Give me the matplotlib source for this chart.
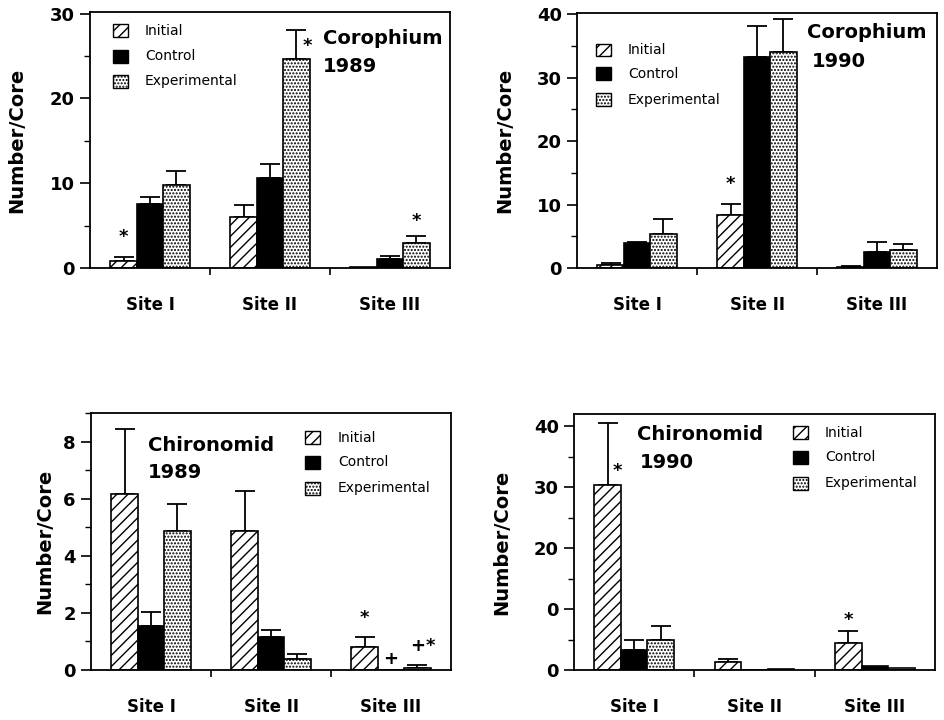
import matplotlib
matplotlib.use("Agg")
import matplotlib.pyplot as plt
from matplotlib.patches import Rectangle
from matplotlib.ticker import FixedLocator, FixedFormatter, MultipleLocator, NullFormatter
import numpy as np

plt.rcParams['font.family'] = ['DejaVu Sans']
plt.rcParams['hatch.linewidth'] = 1.0

sites = ["Site I", "Site II", "Site III"]
series_names = ["Initial", "Control", "Experimental"]

# Corophium 1989
coro89_initial = [0.8, 6.0, 0.1]
coro89_initial_err = [0.45, 1.4, 0.0]
coro89_control = [7.5, 10.6, 1.1]
coro89_control_err = [0.9, 1.7, 0.35]
coro89_exp = [9.8, 24.7, 2.95]
coro89_exp_err = [1.7, 3.4, 0.85]
coro89_marks = [("*", 0, 0, 3.7), ("*", 1, 2, 26.2), ("*", 2, 2, 5.5)]

# Corophium 1990
coro90_initial = [0.4, 8.3, 0.15]
coro90_initial_err = [0.35, 1.8, 0.15]
coro90_control = [3.9, 33.2, 2.5]
coro90_control_err = [0.2, 5.0, 1.6]
coro90_exp = [5.4, 34.0, 2.8]
coro90_exp_err = [2.4, 5.2, 1.0]
coro90_marks = [("*", 1, 0, 13.2)]

# Chironomid 1989
chir89_initial = [6.17, 4.87, 0.79]
chir89_initial_err = [2.28, 1.41, 0.35]
chir89_control = [1.54, 1.14, 0.0]
chir89_control_err = [0.50, 0.26, 0.0]
chir89_exp = [4.87, 0.40, 0.08]
chir89_exp_err = [0.94, 0.16, 0.10]
chir89_marks = [("*", 2, 0, 1.81), ("+", 2, 1, 0.37), ("+", 2, 2, 0.85), ("*", 2, 2, 0.85)]

# Chironomid 1990
chir90_initial = [30.4, 1.26, 4.5]
chir90_initial_err = [10.1, 0.55, 1.9]
chir90_control = [3.3, 0.0, 0.65]
chir90_control_err = [1.6, 0.0, 0.0]
chir90_exp = [4.9, 0.2, 0.4]
chir90_exp_err = [2.4, 0.0, 0.0]
chir90_marks = [("*", 0, 0, 32.7), ("*", 2, 0, 8.2)]

yticks_coro89 = [0, 10, 20, 30]
yticks_coro90 = [0, 10, 20, 30, 40]
yticks_chir89 = [0, 2, 4, 6, 8]
yticks_chir90 = [0, 10, 20, 30, 40]
yticklabels_chir90 = ["0", "0", "20", "30", "40"]

panels = [
    dict(rect=[90/944, 1-268/720, 360/944, 256/720], ylim=(0, 30.2), yticks=yticks_coro89,
         ylabels=[str(t) for t in yticks_coro89], minor=5,
         vals=[coro89_initial, coro89_control, coro89_exp],
         errs=[coro89_initial_err, coro89_control_err, coro89_exp_err],
         marks=coro89_marks, mark_dx={(1, 2, "*"): 11},
         title=[("Corophium", 0.647, 0.898), ("1989", 0.647, 0.789)],
         leg=(0.064, 0.153, [0.926, 0.828, 0.730]), ylab_x=-0.203),
    dict(rect=[577/944, 1-268/720, 360/944, 255/720], ylim=(0, 40.2), yticks=yticks_coro90,
         ylabels=[str(t) for t in yticks_coro90], minor=5,
         vals=[coro90_initial, coro90_control, coro90_exp],
         errs=[coro90_initial_err, coro90_control_err, coro90_exp_err],
         marks=coro90_marks, mark_dx={},
         title=[("Corophium", 0.639, 0.922), ("1990", 0.653, 0.808)],
         leg=(0.053, 0.142, [0.855, 0.761, 0.659]), ylab_x=-0.2),
    dict(rect=[91/944, 1-670/720, 360/944, 257/720], ylim=(0, 9.0), yticks=yticks_chir89,
         ylabels=[str(t) for t in yticks_chir89], minor=1,
         vals=[chir89_initial, chir89_control, chir89_exp],
         errs=[chir89_initial_err, chir89_control_err, chir89_exp_err],
         marks=chir89_marks, mark_dx={(2, 2, "*"): 13},
         title=[("Chironomid", 0.158, 0.875), ("1989", 0.158, 0.767)],
         leg=(0.594, 0.686, [0.903, 0.809, 0.708]), ylab_x=-0.128),
    dict(rect=[574/944, 1-670/720, 361/944, 256/720], ylim=(0, 42.0), yticks=yticks_chir90,
         ylabels=yticklabels_chir90, minor=5,
         vals=[chir90_initial, chir90_control, chir90_exp],
         errs=[chir90_initial_err, chir90_control_err, chir90_exp_err],
         marks=chir90_marks, mark_dx={(0, 0, "*"): 10},
         title=[("Chironomid", 0.175, 0.918), ("1990", 0.183, 0.8125)],
         leg=(0.607, 0.695, [0.926, 0.832, 0.730]), ylab_x=-0.2),
]

faces = ["white", "black", "white"]
hatches = ["///", None, "....."]
w = 0.22

fig = plt.figure(figsize=(9.44, 7.2), dpi=100)

for p in panels:
    ax = fig.add_axes(p["rect"])
    x0 = np.arange(len(sites))
    for j in range(3):
        xs = x0 + (j - 1) * w
        v = np.array(p["vals"][j])
        e = np.array(p["errs"][j])
        ax.bar(xs, v, w, color=faces[j], edgecolor="black", hatch=hatches[j],
               linewidth=1.2, zorder=2)
        m = e > 0
        if m.any():
            ax.errorbar(xs[m], v[m], yerr=[np.zeros(m.sum()), e[m]], fmt="none",
                        ecolor="black", elinewidth=1.3, capsize=7, capthick=1.3, zorder=1)
    for sym, si, sj, yv in p["marks"]:
        dx = p["mark_dx"].get((si, sj, sym), 0)
        ax.annotate(sym, xy=(si + (sj - 1) * w, yv), xytext=(dx * 0.72, 0),
                    textcoords="offset points", ha="center", va="center",
                    fontsize=13, fontweight="bold")
    ax.set_xlim(-0.5, 2.5)
    ax.set_ylim(*p["ylim"])
    ax.yaxis.set_major_locator(FixedLocator(p["yticks"]))
    ax.yaxis.set_major_formatter(FixedFormatter(p["ylabels"]))
    ax.yaxis.set_minor_locator(MultipleLocator(p["minor"]))
    ax.xaxis.set_major_locator(FixedLocator([0.5, 1.5]))
    ax.xaxis.set_major_formatter(NullFormatter())
    ax.xaxis.set_minor_locator(FixedLocator(list(range(len(sites)))))
    ax.xaxis.set_minor_formatter(FixedFormatter(sites))
    ax.tick_params(axis="y", which="major", length=7, width=1.2, pad=4,
                   labelsize=13)
    ax.tick_params(axis="y", which="minor", length=4, width=1.0)
    ax.tick_params(axis="x", which="major", length=5, width=1.2)
    ax.tick_params(axis="x", which="minor", length=0, pad=20, labelsize=12)
    for lab in ax.get_yticklabels():
        lab.set_fontweight("bold")
    for lab in ax.get_xticklabels(minor=True):
        lab.set_fontweight("bold")
    for s in ax.spines.values():
        s.set_linewidth(1.3)
    ax.set_ylabel("Number/Core", fontsize=14, fontweight="bold", va="center")
    ax.yaxis.set_label_coords(p["ylab_x"], 0.5)
    for txt, tx, ty in p["title"]:
        ax.text(tx, ty, txt, transform=ax.transAxes, ha="left", va="center",
                fontsize=14, fontweight="bold")
    px, tx, ys = p["leg"]
    pw = 15 / 360
    ph = 13 / 256
    for j, yc in enumerate(ys):
        ax.add_patch(Rectangle((px, yc - ph / 2), pw, ph, transform=ax.transAxes,
                               facecolor=faces[j], edgecolor="black", hatch=hatches[j],
                               linewidth=1.0, clip_on=False))
        ax.text(tx, yc, series_names[j], transform=ax.transAxes, ha="left",
                va="center", fontsize=10)

fig.savefig("out.png", dpi=100)
